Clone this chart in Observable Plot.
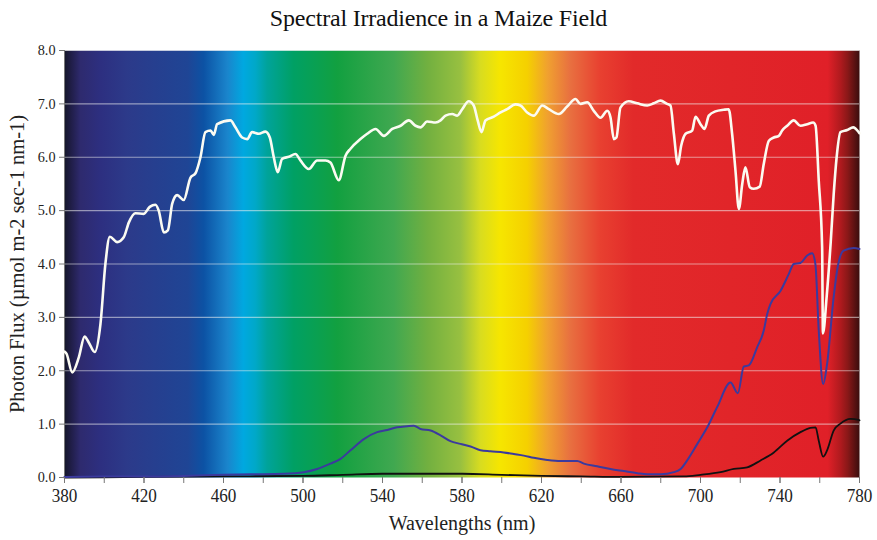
<!DOCTYPE html>
<html>
<head>
<meta charset="utf-8">
<script src="https://cdn.jsdelivr.net/npm/d3@7"></script>
<script src="https://cdn.jsdelivr.net/npm/@observablehq/plot@0.6"></script>
<style>
  html, body { margin: 0; padding: 0; background: #fff; }
  #title { height: 40px; line-height: 36px; text-align: center; font-family: "Liberation Serif", "DejaVu Serif", serif; font-size: 24px; color: #111; letter-spacing: -0.2px; }
  #chart { width: 877px; }
</style>
</head>
<body>
<div id="title">Spectral Irradience in a Maize Field</div>
<div id="chart"></div>
<script>
// ---- Data ----
const xTicksMajor = [380, 420, 460, 500, 540, 580, 620, 660, 700, 740, 780];
const xTicksMinor = [380, 400, 420, 440, 460, 480, 500, 520, 540, 560, 580, 600, 620, 640, 660, 680, 700, 720, 740, 760, 780];
const yTicks = [0, 1, 2, 3, 4, 5, 6, 7, 8];
const yGrid = [1, 2, 3, 4, 5, 6, 7, 8];

// Above-canopy (white) photon flux
const whiteNm = [380,381,383.9,387.2,390.1,392.2,395.2,398.1,400.6,402.8,406.5,409.8,412.4,415.7,419.9,422.9,425.8,427.4,430,432,434.2,436.7,440,443.4,445.9,448.4,450.9,453.5,455.1,456.8,463.5,466,469.4,471.9,474.4,477.8,481.1,483.3,485.3,487.3,489.5,492.9,496.2,498.7,502.9,507.1,511.3,513.8,518,521.4,523.9,528.9,532.3,536.5,540.7,544.9,549.1,553.2,556.6,559.1,562.5,566.7,569.2,571.7,575.1,577.6,580.1,583.4,585.9,587.9,589.8,591.8,596,599.4,602.7,606.9,609.4,612.8,616.1,620.4,623.7,628.7,632.9,637.1,639.6,643,646.3,649.7,653.1,654.7,656.4,657.7,659.7,663.9,668.2,673.2,676.5,679.9,683.2,684.9,686.6,688.6,690.3,692.5,695.8,697.5,700,702,704.2,707.5,711.7,714.2,715.9,717.6,719.3,721,722.6,724.8,726.8,729.8,731.8,734.4,736.9,739.4,741.1,743.6,746.9,750.3,753.7,756.7,757.9,759.5,761.2,761.6,763.5,765.5,767,768.5,770.4,773.8,776.8,779.6,780];
const whiteVal = [2.36,2.32,1.97,2.25,2.64,2.53,2.35,2.88,4.01,4.51,4.41,4.5,4.78,4.95,4.94,5.07,5.11,5.0,4.59,4.63,5.13,5.29,5.2,5.62,5.7,6.0,6.47,6.5,6.42,6.62,6.69,6.56,6.37,6.34,6.47,6.44,6.48,6.37,6.0,5.72,5.97,6.01,6.06,5.94,5.78,5.94,5.94,5.9,5.57,6.03,6.16,6.34,6.44,6.53,6.4,6.53,6.59,6.69,6.59,6.56,6.67,6.65,6.69,6.78,6.81,6.78,6.9,7.05,6.97,6.69,6.47,6.69,6.76,6.84,6.9,6.99,6.97,6.84,6.78,6.97,6.9,6.81,6.95,7.09,7.0,7.03,6.87,6.74,6.87,6.75,6.34,6.37,6.93,7.05,7.01,6.97,7.01,7.06,7.0,6.97,6.44,5.87,6.22,6.44,6.5,6.76,6.62,6.53,6.78,6.86,6.89,6.9,6.44,5.75,5.03,5.5,5.81,5.44,5.41,5.45,5.87,6.31,6.37,6.4,6.5,6.59,6.69,6.59,6.62,6.65,6.59,5.56,4.31,2.7,3.4,4.4,5.3,6.0,6.47,6.51,6.56,6.47,6.45];

// Below-canopy (blue) photon flux
const blueNm = [380,400,420,440,460,473.6,490.3,500.4,507.1,513.8,518.9,523.9,530.6,537.3,542.4,547.4,552.4,555.8,559.1,564.2,569.2,574.2,579.2,584.3,589.3,594.3,601,606.1,611.1,616.1,622.9,629.6,638,641.3,648,654.7,661.4,668.2,673.2,679.9,686.6,690,693.3,698.4,703.4,708.4,715.1,718.8,721.8,724.3,728.5,731.8,733.6,735.2,740.3,744.4,746.9,750.3,753.7,756.2,757.8,759.5,761.7,763.7,767,769,772,777.1,780];
const blueVal = [0.01,0.02,0.02,0.03,0.05,0.06,0.07,0.1,0.16,0.26,0.35,0.51,0.72,0.85,0.89,0.94,0.96,0.97,0.91,0.88,0.79,0.68,0.63,0.58,0.51,0.49,0.47,0.44,0.41,0.37,0.33,0.31,0.31,0.26,0.21,0.16,0.12,0.08,0.06,0.06,0.1,0.16,0.32,0.63,0.94,1.32,1.78,1.58,2.08,2.1,2.44,2.75,3.07,3.25,3.5,3.81,4.0,4.02,4.16,4.2,4.0,2.75,1.75,2.13,3.38,3.94,4.25,4.3,4.28];

// Soil-level (black) photon flux
const blackNm = [380,420,460,500,520,540,560,580,600,620,640,660,691.6,700,710.1,716.8,723.5,730.2,736.9,743.6,750.3,755.3,757.9,759.5,761.7,763.7,767,770.4,775.4,779.6,780];
const blackVal = [0.0,0.01,0.02,0.03,0.05,0.07,0.07,0.07,0.05,0.03,0.02,0.01,0.02,0.05,0.1,0.16,0.19,0.32,0.47,0.69,0.85,0.93,0.94,0.69,0.39,0.51,0.88,1.01,1.1,1.08,1.07];

// Spectrum background colour stops (offset along the 380–780 nm range)
const specOffsets = [0, 0.0075, 0.02, 0.045, 0.079, 0.155, 0.175, 0.205, 0.225, 0.24, 0.255, 0.288, 0.343, 0.414, 0.457, 0.498, 0.523, 0.548, 0.582, 0.608, 0.636, 0.674, 0.716, 0.96, 0.976, 0.985, 1];
const specColors = ["#15172a","#1f1d45","#2e2a6e","#2d2f80","#2c3a8a","#1f4595","#0c52a4","#1a85cc","#00a8e0","#00a8c8","#00a39a","#00a064","#12a040","#40a850","#72b040","#98c040","#d8dc20","#f6e600","#f5d000","#f0a030","#e87040","#e84030","#e22a2a","#e02028","#b01a1e","#8a1818","#3a0e0e"];

const toRows = (xs, ys) => xs.map((x, i) => ({nm: x, v: ys[i]}));
const white = toRows(whiteNm, whiteVal);
const blue = toRows(blueNm, blueVal);
const black = toRows(blackNm, blackVal);

const plot = Plot.plot({
  width: 877,
  height: 500,
  marginLeft: 64,
  marginRight: 18,
  marginTop: 10,
  marginBottom: 63,
  style: {fontFamily: "'Liberation Serif', 'DejaVu Serif', serif", background: "transparent", color: "#222"},
  x: {domain: [380, 780], axis: null},
  y: {domain: [0, 8], axis: null},
  marks: [
    Plot.frame({fill: "url(#spectrum)", stroke: null}),
    Plot.ruleY(yGrid, {stroke: "#f0f0f0", strokeOpacity: 0.55, strokeWidth: 1.2}),
    Plot.ruleX([380], {stroke: "#777", strokeWidth: 1}),
    Plot.line(black, {x: "nm", y: "v", stroke: "#111", strokeWidth: 1.8, curve: "monotone-x"}),
    Plot.line(blue, {x: "nm", y: "v", stroke: "#3b3a9e", strokeWidth: 2, curve: "monotone-x"}),
    Plot.line(white, {x: "nm", y: "v", stroke: "#fbfbf2", strokeWidth: 2.6, curve: "monotone-x"}),
    Plot.axisY(yTicks, {tickFormat: d3.format(".1f"), tickSize: 5, tickPadding: 4, stroke: "#777", fill: "#222", label: null}),
    Plot.axisX(xTicksMinor, {tickFormat: () => "", tickSize: 6, stroke: "#777", label: null}),
    Plot.axisX(xTicksMajor, {tickSize: 6, tickPadding: 5, stroke: "#777", fill: "#222", label: null}),
    Plot.text(["Photon Flux (µmol m-2 sec-1 nm-1)"], {frameAnchor: "left", dx: -47, rotate: -90, fontSize: 20.5, fill: "#222", textAnchor: "middle", lineAnchor: "middle"}),
    Plot.text(["Wavelengths (nm)"], {frameAnchor: "bottom", dy: 46, fontSize: 20, fill: "#222", textAnchor: "middle", lineAnchor: "middle"})
  ]
});

// gradient definition for the spectrum background
const svg = d3.select(plot.tagName.toLowerCase() === "svg" ? plot : plot.querySelector("svg"));
const grad = svg.insert("defs", ":first-child").append("linearGradient")
  .attr("id", "spectrum").attr("x1", "0").attr("x2", "1").attr("y1", "0").attr("y2", "0");
specOffsets.forEach((o, i) => grad.append("stop").attr("offset", o).attr("stop-color", specColors[i]));

document.getElementById("chart").appendChild(plot);

// tick-label sizing: Times-like digits, slightly condensed as in the reference
svg.selectAll("text").each(function() {
  const t = this.textContent.trim();
  let size = null, squeeze = 1;
  if (/^\d\.\d$/.test(t)) { size = 15; squeeze = 0.95; }   // y tick labels
  else if (/^\d{3}$/.test(t)) { size = 19; squeeze = 0.9; }  // x tick labels
  if (!size) return;
  this.style.fontSize = size + "px";
  const w = this.getComputedTextLength();
  if (w > 0) { this.setAttribute("textLength", (w * squeeze).toFixed(1)); this.setAttribute("lengthAdjust", "spacingAndGlyphs"); }
});
</script>
</body>
</html>
